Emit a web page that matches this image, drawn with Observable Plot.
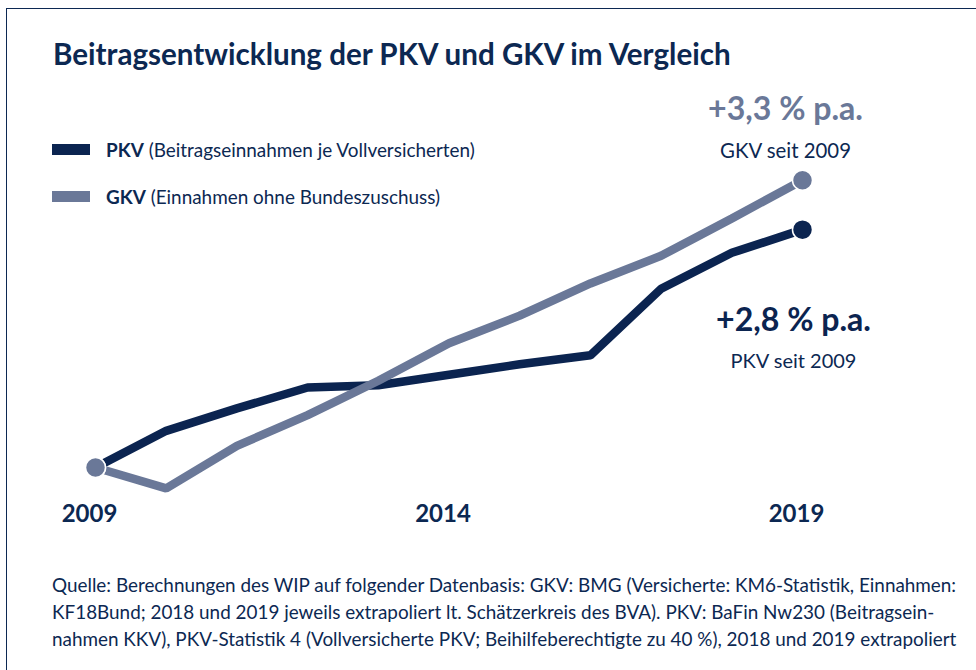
<!DOCTYPE html>
<html><head><meta charset="utf-8">
<script src="https://cdn.jsdelivr.net/npm/d3@7"></script>
<script src="https://cdn.jsdelivr.net/npm/@observablehq/plot@0.6"></script>
<style>
html,body{margin:0;padding:0;background:#fff;}
#wrap{position:relative;width:976px;height:670px;overflow:hidden;background:#fff;font-family:Lato,"Open Sans",sans-serif;color:#0c2852;}
#frame{position:absolute;left:6px;top:8px;width:1000px;height:700px;border:1.5px solid #0c2852;box-sizing:border-box;}
.t{position:absolute;white-space:nowrap;line-height:1;margin:0;}
#chart{position:absolute;left:0;top:80px;}
.sw{position:absolute;left:52px;width:38px;height:11px;}
</style></head><body>
<div id="wrap">
<div id="frame"></div>
<div id="chart"></div>
</div>
<script>
// ---------- data ----------
const years = [2009, 2010, 2011, 2012, 2013, 2014, 2015, 2016, 2017, 2018, 2019];
const pkvIndex = [100, 104.9, 107.9, 110.7, 111.0, 112.4, 113.8, 115.0, 123.9, 128.7, 131.8];
const gkvIndex = [100, 97.2, 102.9, 107.0, 111.6, 116.6, 120.3, 124.6, 128.3, 133.3, 138.4];
const seriesNames = ["PKV", "GKV"];
const seriesDesc = ["(Beitragseinnahmen je Vollversicherten)", "(Einnahmen ohne Bundeszuschuss)"];
const rateLabels = ["+2,8 % p.a.", "+3,3 % p.a."];
const rateNotes = ["PKV seit 2009", "GKV seit 2009"];
const tickYears = [2009, 2014, 2019];
const titleText = "Beitragsentwicklung der PKV und GKV im Vergleich";
const captionLines = [
  "Quelle: Berechnungen des WIP auf folgender Datenbasis: GKV: BMG (Versicherte: KM6-Statistik, Einnahmen:",
  "KF18Bund; 2018 und 2019 jeweils extrapoliert lt. Schätzerkreis des BVA). PKV: BaFin Nw230 (Beitragsein-",
  "nahmen KKV), PKV-Statistik 4 (Vollversicherte PKV; Beihilfeberechtigte zu 40 %), 2018 und 2019 extrapoliert"
];
const colors = ["#0b2450", "#6a7898"];
const navy = "#0c2852";

// ---------- helpers ----------
const wrap = document.getElementById("wrap");
function baselineOffset(el) {
  const m = document.createElement("span");
  m.style.cssText = "display:inline-block;width:0;height:0;vertical-align:baseline;";
  el.insertBefore(m, el.firstChild);
  const off = m.getBoundingClientRect().top - el.getBoundingClientRect().top;
  m.remove();
  return off;
}
function fitSize(el, targetW) {
  el.style.fontSize = "100px";
  const w = el.getBoundingClientRect().width;
  const fs = 100 * targetW / w;
  el.style.fontSize = fs + "px";
  return fs;
}
function place(el, left, baseline) {
  el.style.left = left + "px";
  el.style.top = "0px";
  const off = baselineOffset(el);
  el.style.top = (baseline - off) + "px";
}

// ---------- title ----------
const title = document.createElement("div");
title.className = "t";
title.style.fontWeight = "700";
title.textContent = titleText;
wrap.appendChild(title);
fitSize(title, 678);
place(title, 53, 65);

// ---------- chart ----------
const rows = [];
years.forEach((y, i) => {
  rows.push({series: "PKV", year: y, value: pkvIndex[i]});
  rows.push({series: "GKV", year: y, value: gkvIndex[i]});
});
const pkv = rows.filter(d => d.series === "PKV");
const gkv = rows.filter(d => d.series === "GKV");
const ends = s => [s[0], s[s.length - 1]];
const last = s => s[s.length - 1];
const pkvLab = [{...last(pkv), rate: rateLabels[0], note: rateNotes[0]}];
const gkvLab = [{...last(gkv), rate: rateLabels[1], note: rateNotes[1]}];

const lineOpts = {x: "year", y: "value", stroke: "series", strokeWidth: 8.5, strokeLinejoin: "miter", strokeLinecap: "butt"};
const dotOpts = {x: "year", y: "value", fill: "series", r: 10, stroke: "white", strokeWidth: 1.5};

const plot = Plot.plot({
  width: 976,
  height: 460,
  marginLeft: 0, marginRight: 0, marginTop: 0, marginBottom: 36,
  x: {type: "linear", domain: [2009, 2019], range: [95, 802], axis: null},
  y: {domain: [100, 140], range: [387, 387 - 7.48 * 40], axis: null},
  color: {domain: seriesNames, range: colors},
  style: {fontFamily: "Lato, 'Open Sans', sans-serif", background: "transparent", color: navy, overflow: "visible"},
  marks: [
    Plot.line(pkv, lineOpts),
    Plot.line(gkv, lineOpts),
    Plot.dot(ends(pkv), dotOpts),
    Plot.dot(ends(gkv), dotOpts),
    Plot.axisX(tickYears, {tickSize: 0, tickPadding: 0, tickFormat: d => String(d), label: null, fontSize: 24, fontWeight: "bold", dx: -6}),
    Plot.text(gkvLab, {x: "year", y: "value", text: "rate", fill: colors[1], fontWeight: "bold", fontSize: 28, lineAnchor: "bottom", dx: -17, dy: -60}),
    Plot.text(gkvLab, {x: "year", y: "value", text: "note", fill: navy, fontSize: 20, lineAnchor: "bottom", dx: -17, dy: -22}),
    Plot.text(pkvLab, {x: "year", y: "value", text: "rate", fill: colors[0], fontWeight: "bold", fontSize: 28, lineAnchor: "bottom", dx: -9, dy: 101}),
    Plot.text(pkvLab, {x: "year", y: "value", text: "note", fill: navy, fontSize: 20, lineAnchor: "bottom", dx: -9, dy: 138})
  ]
});
document.getElementById("chart").appendChild(plot);

// fit annotation widths
const fitW = {"+3,3 % p.a.": 155, "GKV seit 2009": 131, "+2,8 % p.a.": 155, "PKV seit 2009": 126};
plot.querySelectorAll("text").forEach(t => {
  const k = t.textContent;
  if (fitW[k]) {
    const fs = parseFloat(getComputedStyle(t).fontSize);
    const w = t.getComputedTextLength();
    t.style.fontSize = (fs * fitW[k] / w) + "px";
  }
});

// ---------- legend ----------
const legendBase = [157, 204];
const legendW = [369, 332];
let legendFs = null;
seriesNames.forEach((s, i) => {
  const sw = document.createElement("div");
  sw.className = "sw";
  sw.style.background = colors[i];
  sw.style.top = (legendBase[i] - 13) + "px";
  wrap.appendChild(sw);
  const t = document.createElement("div");
  t.className = "t";
  const b = document.createElement("b");
  b.textContent = s;
  t.appendChild(b);
  t.appendChild(document.createTextNode(" " + seriesDesc[i]));
  wrap.appendChild(t);
  if (legendFs === null) legendFs = fitSize(t, legendW[i]);
  else t.style.fontSize = legendFs + "px";
  place(t, 106, legendBase[i]);
});

// ---------- caption ----------
const cap = document.createElement("div");
cap.className = "t";
cap.style.lineHeight = "27px";
captionLines.forEach((l, i) => {
  if (i) cap.appendChild(document.createElement("br"));
  cap.appendChild(document.createTextNode(l));
});
wrap.appendChild(cap);
const probe = document.createElement("span");
probe.textContent = captionLines[0];
probe.className = "t";
wrap.appendChild(probe);
const capFs = fitSize(probe, 905);
probe.remove();
cap.style.fontSize = capFs + "px";
place(cap, 52, 592);
</script>
</body></html>
